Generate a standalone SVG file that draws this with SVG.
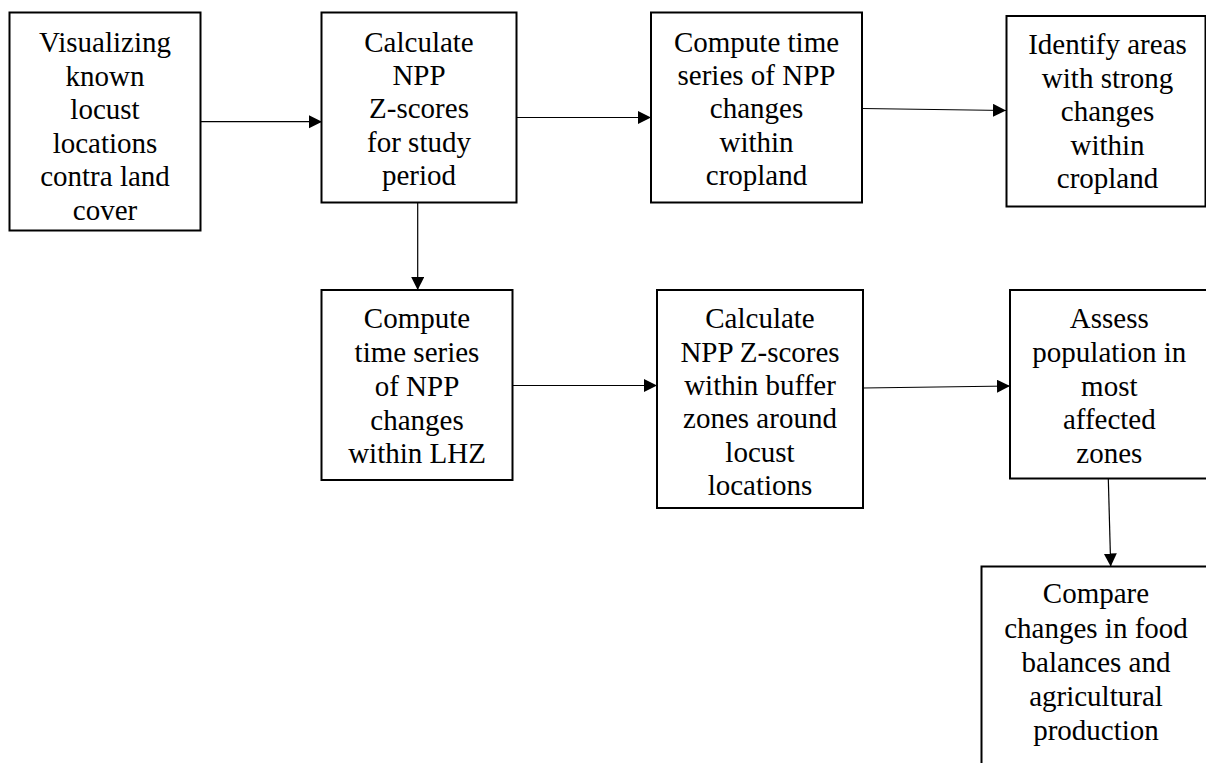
<svg xmlns="http://www.w3.org/2000/svg" width="1206" height="763" viewBox="0 0 1206 763">
<style>
  .box { fill: #fff; stroke: #000; stroke-width: 2; }
  .lbl { font-family: "Liberation Serif", "Times New Roman", serif; font-size: 29px; fill: #000; text-anchor: middle; }
  .conn { stroke: #000; stroke-width: 1.2; fill: none; marker-end: url(#arr); }
</style>
<defs>
  <marker id="arr" markerUnits="userSpaceOnUse" markerWidth="14" markerHeight="14" refX="13" refY="6.5" orient="auto">
    <path d="M0,0 L13,6.5 L0,13 z" fill="#000"/>
  </marker>
</defs>
<rect width="1206" height="763" fill="#fff"/>
<g id="connectors">
  <line class="conn" x1="201" y1="121.7" x2="322" y2="121.7"/>
  <line class="conn" x1="517" y1="117.5" x2="651" y2="117.5"/>
  <line class="conn" x1="862" y1="108.5" x2="1006" y2="110.5"/>
  <line class="conn" x1="417.7" y1="203" x2="417.7" y2="290"/>
  <line class="conn" x1="512.5" y1="385.5" x2="657" y2="385.5"/>
  <line class="conn" x1="863" y1="388" x2="1010" y2="386"/>
  <line class="conn" x1="1108.3" y1="478.5" x2="1110.7" y2="566.5"/>
</g>
<g id="n1">
  <rect class="box" x="9.5" y="12.5" width="191" height="218"/>
  <text class="lbl"><tspan x="105" y="52.3">Visualizing</tspan><tspan x="105" y="85.8">known</tspan><tspan x="105" y="119.3">locust</tspan><tspan x="105" y="152.8">locations</tspan><tspan x="105" y="186.3">contra land</tspan><tspan x="105" y="219.8">cover</tspan></text>
</g>
<g id="n2">
  <rect class="box" x="321.5" y="12.5" width="195" height="190"/>
  <text class="lbl"><tspan x="419" y="51.7">Calculate</tspan><tspan x="419" y="85">NPP</tspan><tspan x="419" y="118.3">Z-scores</tspan><tspan x="419" y="151.6">for study</tspan><tspan x="419" y="185">period</tspan></text>
</g>
<g id="n3">
  <rect class="box" x="651" y="12.5" width="211" height="190"/>
  <text class="lbl"><tspan x="756.5" y="51.7">Compute time</tspan><tspan x="756.5" y="85">series of NPP</tspan><tspan x="756.5" y="118.3">changes</tspan><tspan x="756.5" y="151.6">within</tspan><tspan x="756.5" y="185">cropland</tspan></text>
</g>
<g id="n4">
  <rect class="box" x="1006.5" y="16" width="199" height="190.5"/>
  <text class="lbl"><tspan x="1107.5" y="54.3">Identify areas</tspan><tspan x="1107.5" y="87.8">with strong</tspan><tspan x="1107.5" y="121.3">changes</tspan><tspan x="1107.5" y="154.8">within</tspan><tspan x="1107.5" y="188.3">cropland</tspan></text>
</g>
<g id="n5">
  <rect class="box" x="321.5" y="290" width="191" height="190"/>
  <text class="lbl"><tspan x="417" y="328.3">Compute</tspan><tspan x="417" y="362">time series</tspan><tspan x="417" y="395.8">of NPP</tspan><tspan x="417" y="429.5">changes</tspan><tspan x="417" y="463.3">within LHZ</tspan></text>
</g>
<g id="n6">
  <rect class="box" x="657" y="290" width="206" height="218"/>
  <text class="lbl"><tspan x="760" y="328.3">Calculate</tspan><tspan x="760" y="361.6">NPP Z-scores</tspan><tspan x="760" y="395">within buffer</tspan><tspan x="760" y="428.3">zones around</tspan><tspan x="760" y="461.6">locust</tspan><tspan x="760" y="495">locations</tspan></text>
</g>
<g id="n7">
  <rect class="box" x="1010" y="290" width="198" height="188.5"/>
  <text class="lbl"><tspan x="1109.3" y="328.3">Assess</tspan><tspan x="1109.3" y="361.9">population in</tspan><tspan x="1109.3" y="395.5">most</tspan><tspan x="1109.3" y="429.1">affected</tspan><tspan x="1109.3" y="462.7">zones</tspan></text>
</g>
<g id="n8">
  <rect class="box" x="981.5" y="566.5" width="230" height="210"/>
  <text class="lbl"><tspan x="1096" y="603.3">Compare</tspan><tspan x="1096" y="637.5">changes in food</tspan><tspan x="1096" y="671.6">balances and</tspan><tspan x="1096" y="705.8">agricultural</tspan><tspan x="1096" y="740">production</tspan></text>
</g>
</svg>
